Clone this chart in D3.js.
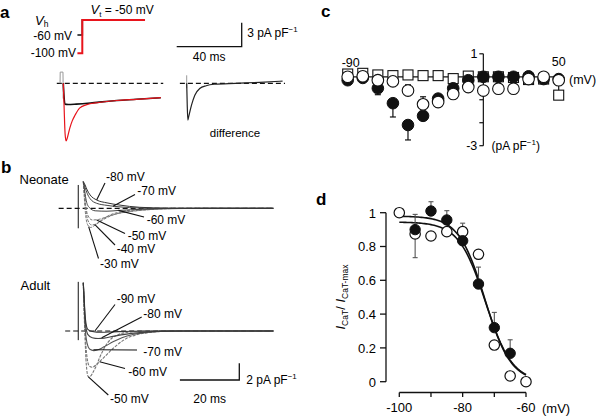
<!DOCTYPE html>
<html><head><meta charset="utf-8">
<script src="https://cdnjs.cloudflare.com/ajax/libs/d3/7.8.5/d3.min.js"></script>
<style>
body{margin:0;background:#fff}
svg{display:block}
text{font-family:"Liberation Sans",Arial,Helvetica,sans-serif;fill:#000}
</style>
</head><body>
<svg id="fig" width="602" height="416"></svg>
<script>
// ================= DATA =================
// Panel a: voltage protocol (schematic, ms / mV)
const protoTime   = [-3, 0, 0, 38.6];
const protoHold60 = [-60, -60, -50, -50];
const protoHold100= [-100, -100, -50, -50];
// Panel a currents: [time ms, current pA/pF]
const aHold60  = [[0,0],[0.4,-1.5],[1,-2.6],[3,-2.65],[8,-2.6],[15,-2.5],[22,-2.35],[33,-2.15],[45,-2.0],[60,-1.8]];
const aHold100 = [[0,0],[0.5,-3],[1.1,-6.3],[1.7,-7.2],[2.5,-6.8],[4,-5.6],[5.5,-4.7],[7.2,-4.0],[10,-3.1],[14,-2.7],[22,-2.4],[33,-2.15],[45,-2.0],[60,-1.8]];
const aDiff    = [[0,0],[0.3,-2.5],[0.7,-4.6],[1.3,-4.1],[3,-2.7],[5,-1.5],[8,-0.65],[12,-0.3],[17,-0.12],[30,0],[45,0.12],[59,0.28]];
const aArtifact = [[-2,0],[-1.9,1.4],[-0.2,1.4],[0,-1.9],[0.1,0]];
const aDiffArtifact = [[0,1.0],[0,-0.6]];

// Panel b traces: [time ms, current pA/pF]
const neoLabels = ["-80 mV","-70 mV","-60 mV","-50 mV","-40 mV","-30 mV"];
const neo80 = [[0,3.2],[0.6,2.8],[1.3,2.2],[2.3,1.6],[4.5,1.0],[8,0.65],[12,0.4],[19,0.12],[28,0.03],[40,0],[64,0]];
const neo70 = [[0,3.2],[0.6,2.5],[1.3,1.8],[2.3,1.15],[4.5,0.6],[8,0.35],[12,0.18],[19,0.03],[30,-0.03],[40,0],[64,0]];
const neo60 = [[0,3.2],[0.5,2.0],[1,0.9],[2,0.1],[4,-0.3],[8,-0.35],[12,-0.25],[20,-0.12],[30,-0.04],[40,0],[64,0]];
const neo50 = [[0,3.2],[0.4,1.8],[0.8,0.4],[1.6,-0.9],[3,-1.4],[5,-1.35],[8,-1.0],[12,-0.6],[18,-0.3],[25,-0.1],[35,0],[64,0]];
const neo40 = [[0,3.2],[0.4,1.5],[0.8,0],[1.6,-1.5],[2.8,-2.0],[4.5,-1.85],[7,-1.3],[10,-0.8],[15,-0.4],[22,-0.15],[30,0],[64,0]];
const neo30 = [[0,3.2],[0.35,1.2],[0.7,-0.5],[1.5,-2.0],[2.5,-2.3],[4,-2.0],[6,-1.45],[9,-0.8],[13,-0.4],[20,-0.1],[28,0],[64,0]];
const neoArtifact = [[-1.7,2.8],[-1.7,-2.4]];

const adLabels = ["-90 mV","-80 mV","-70 mV","-60 mV","-50 mV"];
const ad90 = [[0,5.8],[0.35,3.5],[0.7,1.5],[1.5,0.2],[3,-0.05],[6,-0.15],[10,-0.1],[16,-0.03],[25,0],[64,0]];
const ad80 = [[0,5.8],[0.35,3.2],[0.7,1.0],[1.5,-0.4],[3,-0.8],[5,-0.9],[7,-0.85],[10,-0.65],[14,-0.4],[19,-0.2],[26,-0.05],[35,0],[64,0]];
const ad70 = [[0,5.8],[0.3,3],[0.6,0.5],[1.3,-1.5],[2.2,-2.2],[3.5,-2.35],[5,-2.25],[7,-1.9],[10,-1.3],[13,-0.8],[17,-0.4],[22,-0.15],[30,0],[64,0]];
const ad60 = [[0,5.8],[0.3,2.8],[0.6,0],[1.2,-3],[2,-4.2],[3,-4.35],[4.5,-4.0],[6,-3.5],[8,-2.8],[10,-2.1],[12,-1.5],[14.5,-0.9],[18,-0.45],[23,-0.15],[30,0],[64,0]];
const ad50 = [[0,5.8],[0.25,2.5],[0.5,0],[1.0,-4],[1.7,-5.5],[2.5,-5.4],[3.5,-4.8],[4.5,-4.1],[5.5,-3.2],[6.7,-2.3],[8,-1.5],[9.5,-0.9],[12,-0.4],[16,-0.12],[22,0],[64,0]];
const adArtifact = [[-1.7,5.9],[-1.7,-1.1]];

// Panel c: I-V (mV, pA/pF)
const cVolt    = [-90,-80,-70,-60,-50,-40,-30,-20,-10,0,10,20,30,40,50];
const cAdult   = [-0.15,-0.05,-0.5,-1.15,-2.1,-1.7,-0.95,-0.5,-0.15,0,0,0,0.02,-0.1,-0.1];
const cAdultErr= [0,0,-0.28,-0.6,-0.65,0,0,0,0,0,0,0,0,0,0];
const cNeo     = [0,0.02,-0.15,-0.2,-0.6,-1.2,-1.1,-0.75,-0.45,-0.6,-0.52,-0.52,-0.1,0,-0.15];
const cNeoErr  = [0,0,0,0,0.25,0.33,0,0,0,0,0,0,0,0,0.25];
const cSquare  = [0.12,0.15,0.08,0.05,0.08,0.05,0.05,-0.08,0.03,0,0,-0.03,-0.12,-0.1,-0.8];
const cSquareErr=[0,0,0,0,0,0,0,0,0,0,0,0,0,0,0.45];
const cYTicks = [1,0,-1,-2,-3];
const cYTickLabels = ["1","","","","-3"];

// Panel d: steady-state inactivation
const dVolt    = [-100,-95,-90,-85,-80,-75,-70,-65,-60];
const dAdult   = [null,0.9,1.01,0.957,0.834,0.578,0.32,0.168,null];
const dAdultErr= [0,0.09,0.055,0.055,0,0.1,0.09,0.08,0];
const dNeo     = [1.0,0.874,0.862,0.888,0.888,0.754,0.217,0.034,0.0];
const dNeoErr  = [0,-0.14,0,0,0.05,0,0,0,0];
const dFitAdult = [0.98,-73,4.1];   // Boltzmann fit: [A, V1/2, k]
const dFitNeo   = [0.945,-72.8,4.2];
const dYTicks = [0,0.2,0.4,0.6,0.8,1];
const dYTickLabels = ["0","0.2","0.4","0.6","0.8","1"];
const dXTicks = [-100,-90,-80,-70,-60];
const dXTickLabels = ["-100","","-80","","-60"];

// ================= DRAWING =================
const svg = d3.select("#fig");
const BLACK = "#111";
function panelLetter(x,y,t){ svg.append("text").attr("x",x).attr("y",y).attr("font-size",17).attr("font-weight","bold").text(t); }
function txt(x,y,t,opt={}){ const e=svg.append("text").attr("x",x).attr("y",y).attr("font-size",opt.size||12).attr("text-anchor",opt.anchor||"start").text(t); return e; }
function unitLabel(x,y,pre,post,size){
  const e=svg.append("text").attr("x",x).attr("y",y).attr("font-size",size||12);
  e.append("tspan").text(pre+"pF");
  e.append("tspan").attr("dy",-5).attr("font-size",8).text("\u22121");
  if(post) e.append("tspan").attr("dy",5).text(post);
  return e;
}
function lineGen(xs,ys,curve){ return d3.line().x(d=>xs(d[0])).y(d=>ys(d[1])).curve(curve||d3.curveMonotoneX); }

// ---------- Panel a ----------
panelLetter(0,18,"a");
const aMsPx = d3.scaleLinear().domain([0,40]).range([0,65]);
const protoX = d3.scaleLinear().domain([0,40]).range([82.3,82.3+65]);
const protoY = d3.scaleLinear().domain([-100,-60,-50]).range([53.3,35,20]);
const protoLine = d3.line().x(d=>protoX(d[0])).y(d=>protoY(d[1]));
svg.append("path").attr("d",protoLine(protoTime.map((t,i)=>[t,protoHold60[i]]))).attr("fill","none").attr("stroke",BLACK).attr("stroke-width",1.6);
svg.append("path").attr("d",protoLine(protoTime.map((t,i)=>[t,protoHold100[i]]))).attr("fill","none").attr("stroke","#e8141c").attr("stroke-width",2);
{ const e=svg.append("text").attr("x",35).attr("y",24.5).attr("font-size",13);
  e.append("tspan").attr("font-style","italic").text("V");
  e.append("tspan").attr("dy",2.5).attr("font-size",8.5).text("h"); }
txt(72,protoY(-60)+5,"-60 mV",{anchor:"end"});
txt(76,protoY(-100)+4,"-100 mV",{anchor:"end"});
{ const e=svg.append("text").attr("x",90.5).attr("y",13.5).attr("font-size",12);
  e.append("tspan").attr("font-style","italic").attr("font-size",13).text("V");
  e.append("tspan").attr("dy",3).attr("font-size",8).text("t");
  e.append("tspan").attr("dy",-3).text(" = -50 mV"); }

const axL = d3.scaleLinear().domain([0,40]).range([63.3,63.3+65]);
const axR = d3.scaleLinear().domain([0,40]).range([186.7,186.7+65]);
const ayA = d3.scaleLinear().domain([0,-3]).range([83.3,107.3]);
svg.append("line").attr("x1",axL(-4)).attr("x2",axL(61.5)).attr("y1",ayA(0)).attr("y2",ayA(0)).attr("stroke",BLACK).attr("stroke-width",1.2).attr("stroke-dasharray","5,3");
svg.append("line").attr("x1",axR(-4.2)).attr("x2",axR(60.5)).attr("y1",ayA(0)).attr("y2",ayA(0)).attr("stroke",BLACK).attr("stroke-width",1.2).attr("stroke-dasharray","5,3");
svg.append("path").attr("d",lineGen(axL,ayA,d3.curveLinear)(aArtifact)).attr("fill","none").attr("stroke","#999").attr("stroke-width",1);
svg.append("path").attr("d",lineGen(axR,ayA,d3.curveLinear)(aDiffArtifact)).attr("fill","none").attr("stroke","#999").attr("stroke-width",1);
svg.append("path").attr("d",lineGen(axL,ayA)(aHold60)).attr("fill","none").attr("stroke",BLACK).attr("stroke-width",1.6);
svg.append("path").attr("d",lineGen(axL,ayA)(aHold100)).attr("fill","none").attr("stroke","#e8141c").attr("stroke-width",1.2);
svg.append("path").attr("d",lineGen(axR,ayA)(aDiff)).attr("fill","none").attr("stroke","#222").attr("stroke-width",1.2);
txt(235,136.5,"difference",{anchor:"middle",size:11.5});
{ const x0=176.7, y0=46.7, len=aMsPx(40)-aMsPx(0), h=ayA(-3)-ayA(0);
  svg.append("path").attr("d",`M${x0},${y0}H${x0+len}V${y0-h}`).attr("fill","none").attr("stroke",BLACK).attr("stroke-width",1.3);
  txt(x0+len/2,60.5,"40 ms",{anchor:"middle"});
  unitLabel(x0+len+5.5,37,"3 pA ");
}

// ---------- Panel b ----------
panelLetter(1,173,"b");
txt(19.5,184,"Neonate",{size:13});
txt(20.5,290,"Adult",{size:13});
const bx = d3.scaleLinear().domain([0,20]).range([83.3,83.3+59.4]);
const byN = d3.scaleLinear().domain([0,2]).range([208.3,208.3-16.66]);
const byA = d3.scaleLinear().domain([0,2]).range([331,331-16.66]);
const neoTraces = [neo80,neo70,neo60,neo50,neo40,neo30];
const adTraces = [ad90,ad80,ad70,ad60,ad50];
const neoStyle = [["#333",null],["#444",null],["#444",null],["#777","3,1.2"],["#777","3,1.2"],["#777","3,1.2"]];
const adStyle = [["#333",null],["#444",null],["#555",null],["#777","3,1.2"],["#777","3,1.2"]];
svg.append("line").attr("x1",bx(-8.3)).attr("x2",bx(64)).attr("y1",byN(0)).attr("y2",byN(0)).attr("stroke",BLACK).attr("stroke-width",1.2).attr("stroke-dasharray","5,3");
svg.append("line").attr("x1",bx(-6.1)).attr("x2",bx(64)).attr("y1",byA(0)).attr("y2",byA(0)).attr("stroke",BLACK).attr("stroke-width",1.2).attr("stroke-dasharray","5,3");
svg.append("path").attr("d",lineGen(bx,byN,d3.curveLinear)(neoArtifact)).attr("stroke",BLACK).attr("stroke-width",1);
svg.append("path").attr("d",lineGen(bx,byA,d3.curveLinear)(adArtifact)).attr("stroke",BLACK).attr("stroke-width",1);
neoTraces.slice().reverse().forEach((tr,i)=>{ const k=neoTraces.length-1-i;
  svg.append("path").attr("d",lineGen(bx,byN)(tr)).attr("fill","none").attr("stroke",neoStyle[k][0]).attr("stroke-width",1).attr("stroke-dasharray",neoStyle[k][1]); });
adTraces.slice().reverse().forEach((tr,i)=>{ const k=adTraces.length-1-i;
  svg.append("path").attr("d",lineGen(bx,byA)(tr)).attr("fill","none").attr("stroke",adStyle[k][0]).attr("stroke-width",1.1).attr("stroke-dasharray",adStyle[k][1]); });
// annotation layout: [text x, text baseline, leader start x, y, leader end t, I]
const neoAnn = [[106,181,105,183,4.5,1.0],[137.3,195,135,194.5,10,0.25],[146.7,224,144,217,11.8,-0.25],[127.7,240,125,233.5,4.5,-1.4],[116.7,252.7,115,245,3.9,-1.95],[100,268.3,98.5,258.5,1.8,-2.2]];
const adAnn = [[116.7,303.3,115,304.5,3.9,0.0],[143.3,317.7,141.7,317,6.2,-0.8],[143.3,355.7,137,350,3.4,-2.25],[128.3,375.7,125,368.5,5.5,-3.7],[110,402.7,108.3,395,1.7,-5.5]];
neoAnn.forEach((a,i)=>{ svg.append("line").attr("x1",a[2]).attr("y1",a[3]).attr("x2",bx(a[4])).attr("y2",byN(a[5])).attr("stroke",BLACK).attr("stroke-width",1.1); txt(a[0],a[1],neoLabels[i]); });
adAnn.forEach((a,i)=>{ svg.append("line").attr("x1",a[2]).attr("y1",a[3]).attr("x2",bx(a[4])).attr("y2",byA(a[5])).attr("stroke",BLACK).attr("stroke-width",1.1); txt(a[0],a[1],adLabels[i]); });
{ const x1=239.3, y0=380, len=bx(20)-bx(0), h=byA(0)-byA(2);
  svg.append("path").attr("d",`M${x1-len},${y0}H${x1}V${y0-h}`).attr("fill","none").attr("stroke",BLACK).attr("stroke-width",1.3);
  txt(x1-len/2,402.5,"20 ms",{anchor:"middle"});
  unitLabel(x1+7,383.5,"2 pA ");
}

// ---------- Panel c ----------
panelLetter(321,17,"c");
const cx = d3.scaleLinear().domain([-90,50]).range([347.7,558.7]);
const cy = d3.scaleLinear().domain([1,-3]).range([53.8,145.7]);
svg.append("line").attr("x1",cx(-90)).attr("x2",cx(50)).attr("y1",cy(0)).attr("y2",cy(0)).attr("stroke",BLACK).attr("stroke-width",1.2);
svg.append("line").attr("x1",cx(0)).attr("x2",cx(0)).attr("y1",cy(1)).attr("y2",cy(-3)).attr("stroke",BLACK).attr("stroke-width",1.2);
cYTicks.forEach((v,i)=>{ svg.append("line").attr("x1",cx(0)-4).attr("x2",cx(0)).attr("y1",cy(v)).attr("y2",cy(v)).attr("stroke",BLACK).attr("stroke-width",1.2);
  if(cYTickLabels[i]) txt(cx(0)-6,cy(v)+4.5,cYTickLabels[i],{anchor:"end",size:12.5}); });
txt(cx(-90)+3,66.5,"-90",{anchor:"middle",size:12.5});
txt(cx(50),66,"50",{anchor:"middle",size:12.5});
txt(569,83.5,"(mV)",{size:12.5});
unitLabel(491.5,150,"(pA ",")",12);
function errBars(vals,errs,color){
  vals.forEach((v,i)=>{ if(!errs[i]||v===null) return;
    const x=cx(cVolt[i]), y1=cy(v), y2=cy(v+errs[i]);
    svg.append("line").attr("x1",x).attr("x2",x).attr("y1",y1).attr("y2",y2).attr("stroke",color).attr("stroke-width",1.2);
    svg.append("line").attr("x1",x-3).attr("x2",x+3).attr("y1",y2).attr("y2",y2).attr("stroke",color).attr("stroke-width",1.2); });
}
errBars(cSquare,cSquareErr,BLACK);
errBars(cAdult,cAdultErr,BLACK);
errBars(cNeo,cNeoErr,BLACK);
svg.append("g").selectAll("rect").data(cVolt).join("rect")
  .attr("x",(d,i)=>cx(d)-5).attr("y",(d,i)=>cy(cSquare[i])-5).attr("width",10).attr("height",10)
  .attr("fill","#fff").attr("stroke",BLACK).attr("stroke-width",1.1);
svg.append("g").selectAll("circle").data(cVolt).join("circle")
  .attr("cx",d=>cx(d)).attr("cy",(d,i)=>cy(cAdult[i])).attr("r",5.8).attr("fill",BLACK).attr("stroke",BLACK);
svg.append("g").selectAll("circle").data(cVolt).join("circle")
  .attr("cx",d=>cx(d)).attr("cy",(d,i)=>cy(cNeo[i])).attr("r",5.8).attr("fill","#fff").attr("stroke",BLACK).attr("stroke-width",1.1);

// ---------- Panel d ----------
panelLetter(316,205,"d");
const dx = d3.scaleLinear().domain([-100,-60]).range([399.3,526]);
const dy = d3.scaleLinear().domain([0,1]).range([381.7,212.7]);
const dAxisX = 386, dAxisY = 392.5;
svg.append("line").attr("x1",dAxisX).attr("x2",dAxisX).attr("y1",dy(0)).attr("y2",dy(1)).attr("stroke",BLACK).attr("stroke-width",1.3);
dYTicks.forEach((v,i)=>{ svg.append("line").attr("x1",dAxisX-6).attr("x2",dAxisX).attr("y1",dy(v)).attr("y2",dy(v)).attr("stroke",BLACK).attr("stroke-width",1.3);
  txt(dAxisX-10,dy(v)+4.8,dYTickLabels[i],{anchor:"end",size:13}); });
svg.append("line").attr("x1",dx(-100)).attr("x2",dx(-60)).attr("y1",dAxisY).attr("y2",dAxisY).attr("stroke",BLACK).attr("stroke-width",1.3);
dXTicks.forEach((v,i)=>{ svg.append("line").attr("x1",dx(v)).attr("x2",dx(v)).attr("y1",dAxisY).attr("y2",dAxisY+4.5).attr("stroke",BLACK).attr("stroke-width",1.3);
  if(dXTickLabels[i]) txt(dx(v),412,dXTickLabels[i],{anchor:"middle",size:13}); });
txt(542,412.5,"(mV)",{size:13});
{ const e=svg.append("text").attr("transform","translate(345,297) rotate(-90)").attr("text-anchor","middle").attr("font-size",13);
  e.append("tspan").attr("font-style","italic").text("I");
  e.append("tspan").attr("dy",3).attr("font-size",8.5).text("CaT");
  e.append("tspan").attr("dy",-3).text("/ ");
  e.append("tspan").attr("font-style","italic").text("I");
  e.append("tspan").attr("dy",3).attr("font-size",8.5).text("CaT-max"); }
const boltz = (p,v)=>p[0]/(1+Math.exp((v-p[1])/p[2]));
const fitV = d3.range(-100,-59.99,0.5);
const fitLine = d3.line().x(d=>dx(d[0])).y(d=>dy(d[1]));
[dFitAdult,dFitNeo].forEach(p=>svg.append("path").attr("d",fitLine(fitV.map(v=>[v,boltz(p,v)]))).attr("fill","none").attr("stroke",BLACK).attr("stroke-width",1.6));
function dErr(vals,errs){
  vals.forEach((v,i)=>{ if(!errs[i]||v===null) return;
    const x=dx(dVolt[i]), y2=dy(v+errs[i]);
    svg.append("line").attr("x1",x).attr("x2",x).attr("y1",dy(v)).attr("y2",y2).attr("stroke","#555").attr("stroke-width",1.1);
    svg.append("line").attr("x1",x-2.5).attr("x2",x+2.5).attr("y1",y2).attr("y2",y2).attr("stroke","#555").attr("stroke-width",1.1); });
}
dErr(dNeo,dNeoErr); dErr(dAdult,dAdultErr);
const dAdultPts = dVolt.map((v,i)=>[v,dAdult[i]]).filter(d=>d[1]!==null);
const dNeoPts = dVolt.map((v,i)=>[v,dNeo[i]]).filter(d=>d[1]!==null);
svg.append("g").selectAll("circle").data(dNeoPts).join("circle")
  .attr("cx",d=>dx(d[0])).attr("cy",d=>dy(d[1])).attr("r",5.2).attr("fill","#fff").attr("stroke",BLACK).attr("stroke-width",1.2);
svg.append("g").selectAll("circle").data(dAdultPts).join("circle")
  .attr("cx",d=>dx(d[0])).attr("cy",d=>dy(d[1])).attr("r",5.2).attr("fill",BLACK).attr("stroke",BLACK);
</script>
</body></html>
